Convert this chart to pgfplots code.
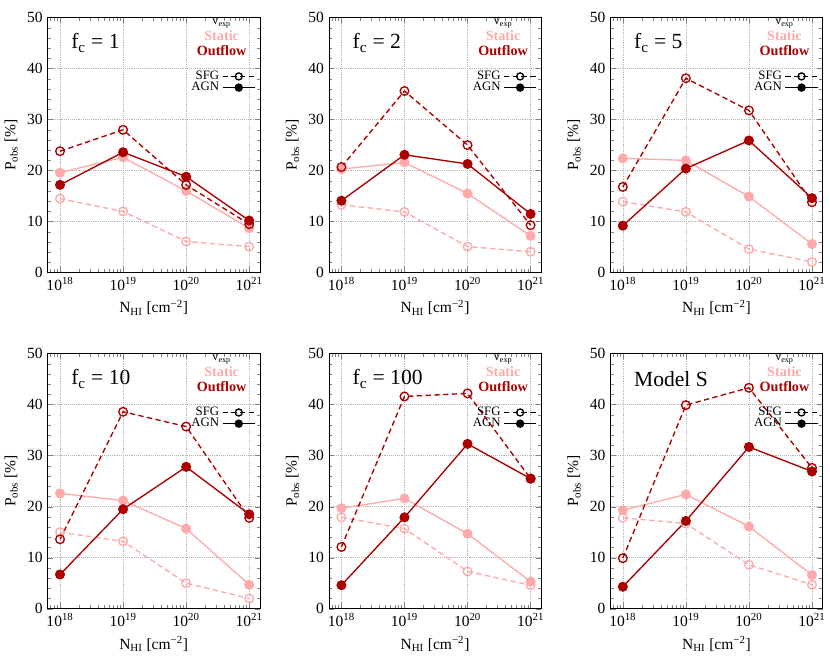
\documentclass[border=0pt]{standalone}
\usepackage{fontspec}
\setmainfont{Liberation Serif}
\usepackage{pgfplots}
\pgfplotsset{compat=1.18}
\usepackage{pgfplotstable}
\usepgfplotslibrary{groupplots}
\definecolor{static}{RGB}{255,170,170}
\definecolor{outflow}{RGB}{170,0,0}

% columns: N, static SFG, static AGN, outflow SFG, outflow AGN
\pgfplotstableread{
N    sS   sA   oS   oA
1e18 14.5 19.6 23.8 17.2
1e19 12.0 22.6 28.0 23.6
1e20 6.1  16.0 17.2 18.8
1e21 5.1  8.7  9.5  10.2
}\fcone
\pgfplotstableread{
N    sS   sA   oS   oA
1e18 13.3 20.3 20.7 14.1
1e19 11.9 21.6 35.6 23.1
1e20 5.1  15.5 25.0 21.3
1e21 4.1  7.2  9.3  11.5
}\fctwo
\pgfplotstableread{
N    sS   sA   oS   oA
1e18 13.9 22.4 16.8 9.2
1e19 11.9 22.0 38.1 20.4
1e20 4.6  14.9 31.8 25.9
1e21 2.1  5.6  13.8 14.6
}\fcfive
\pgfplotstableread{
N    sS   sA   oS   oA
1e18 15.0 22.6 13.6 6.7
1e19 13.2 21.2 38.6 19.5
1e20 5.0  15.7 35.7 27.8
1e21 2.0  4.7  17.8 18.5
}\fcten
\pgfplotstableread{
N    sS   sA   oS   oA
1e18 17.9 19.7 12.1 4.6
1e19 15.7 21.6 41.6 17.9
1e20 7.3  14.7 42.2 32.3
1e21 4.6  5.3  25.5 25.5
}\fchundred
\pgfplotstableread{
N    sS   sA   oS   oA
1e18 17.8 19.3 9.9  4.3
1e19 16.7 22.4 39.9 17.2
1e20 8.6  16.1 43.3 31.7
1e21 4.7  6.6  27.6 26.9
}\models

\pgfplotsset{
  sfg/.style={line width=1pt, dash pattern=on 4pt off 2.5pt, mark=o, mark size=3.2pt, mark options={solid}},
  agn/.style={line width=1pt, solid, mark=*, mark size=3.2pt},
  panel/.style={
    width=157.5pt, height=189pt, scale only axis,
    xmode=log, xmin=6.3e17, xmax=1.48e21,
    ymin=0, ymax=50, ytick={0,10,...,50}, minor y tick num=4,
    xtick={1e18,1e19,1e20,1e21},
    xticklabels={10\textsuperscript{18},10\textsuperscript{19},10\textsuperscript{20},10\textsuperscript{21}},
    minor xtick={7e17,8e17,9e17,2e18,3e18,4e18,5e18,6e18,7e18,8e18,9e18,
      2e19,3e19,4e19,5e19,6e19,7e19,8e19,9e19,
      2e20,3e20,4e20,5e20,6e20,7e20,8e20,9e20},
    grid=major, major grid style={densely dotted, gray!60},
    major tick length=4pt, minor tick length=2.5pt,
    tick label style={font=\fontsize{11.5}{13}\selectfont},
    label style={font=\fontsize{11.5}{13}\selectfont},
    /pgf/number format/assume math mode=true,
    xlabel={N\textsubscript{HI} [cm\textsuperscript{−2}]},
    ylabel={P\textsubscript{obs} [\%]},
    legend style={at={(rel axis cs:1,0.812)}, anchor=north east, draw=none, fill=none,
      font=\fontsize{9.5}{10}\selectfont, row sep=-3.5pt},
    legend cell align=right, legend plot pos=right,
    legend image code/.code={\draw[mark repeat=2, mark phase=2, #1, mark size=2.6pt]
      plot coordinates {(0pt,0pt) (12pt,0pt) (24pt,0pt)};},
  },
}

\newcommand{\deco}[1]{%
  \node[anchor=west, font=\fontsize{16}{18}\selectfont] at (rel axis cs:0.09,0.9) {#1};
  \node[anchor=north, align=center, inner sep=0pt, font=\fontsize{10.5}{11}\selectfont\bfseries]
    at (rel axis cs:0.82,0.995)
    {{\mdseries\fontsize{9}{9}\selectfont v\textsubscript{exp}}\\[0.5pt]
     \textcolor{static}{Static}\\ \textcolor{outflow}{Outflow}};
  \addlegendimage{black, sfg}\addlegendentry{SFG}
  \addlegendimage{black, agn}\addlegendentry{AGN}
}

\newcommand{\panelplots}[1]{%
  \addplot[static, sfg, forget plot] table[x=N, y=sS] {#1};
  \addplot[static, agn, forget plot] table[x=N, y=sA] {#1};
  \addplot[outflow, sfg, forget plot] table[x=N, y=oS] {#1};
  \addplot[outflow, agn, forget plot] table[x=N, y=oA] {#1};
}

\begin{document}
\begin{tikzpicture}
\begin{groupplot}[group style={group size=3 by 2, horizontal sep=51pt, vertical sep=60pt}, panel]
\nextgroupplot
\panelplots{\fcone}
\deco{f\textsubscript{c} = 1}
\nextgroupplot
\panelplots{\fctwo}
\deco{f\textsubscript{c} = 2}
\nextgroupplot
\panelplots{\fcfive}
\deco{f\textsubscript{c} = 5}
\nextgroupplot
\panelplots{\fcten}
\deco{f\textsubscript{c} = 10}
\nextgroupplot
\panelplots{\fchundred}
\deco{f\textsubscript{c} = 100}
\nextgroupplot
\panelplots{\models}
\deco{Model S}
\end{groupplot}
% extra room above the top row, as in the reference
\path ([yshift=13pt]group c1r1.north);
\end{tikzpicture}
\end{document}
